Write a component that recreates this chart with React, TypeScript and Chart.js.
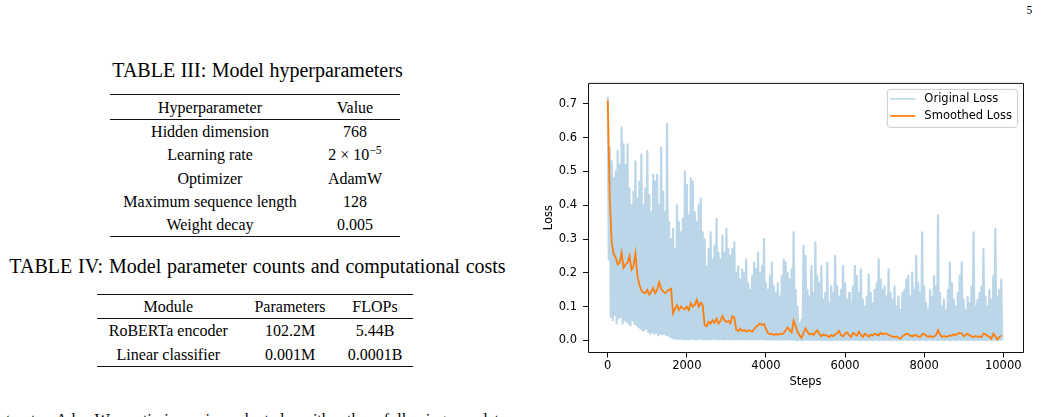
import React, { useEffect, useRef } from "react";
import { Chart, registerables } from "chart.js";

Chart.register(...registerables);

// ---------------- data ----------------
const BIN = 50; // steps per bin of the loss log
// upper envelope of the raw loss, one value per 50-step bin (0 .. 9950)
const originalHigh = [
  0.72, 0.57, 0.53, 0.48, 0.5, 0.56, 0.52, 0.63, 0.58, 0.52,
  0.58, 0.45, 0.4, 0.44, 0.53, 0.42, 0.47, 0.55, 0.4, 0.45,
  0.56, 0.43, 0.38, 0.49, 0.47, 0.49, 0.4, 0.57, 0.44, 0.38,
  0.64, 0.35, 0.3, 0.33, 0.27, 0.4, 0.35, 0.32, 0.36, 0.5,
  0.46, 0.37, 0.48, 0.47, 0.38, 0.35, 0.4, 0.42, 0.32, 0.3,
  0.22, 0.27, 0.32, 0.24, 0.28, 0.36, 0.26, 0.24, 0.31, 0.26,
  0.33, 0.27, 0.25, 0.27, 0.29, 0.2, 0.22, 0.18, 0.21, 0.2,
  0.24, 0.17, 0.15, 0.19, 0.23, 0.21, 0.26, 0.2, 0.22, 0.3,
  0.17, 0.15, 0.19, 0.23, 0.16, 0.14, 0.17, 0.13, 0.19, 0.24,
  0.23, 0.2, 0.18, 0.21, 0.32, 0.15, 0.1, 0.05, 0.06, 0.28,
  0.25, 0.15, 0.13, 0.22, 0.14, 0.29, 0.19, 0.17, 0.22, 0.12,
  0.14, 0.23, 0.11, 0.16, 0.14, 0.25, 0.16, 0.13, 0.15, 0.22,
  0.17, 0.12, 0.14, 0.11, 0.16, 0.22, 0.19, 0.14, 0.21, 0.12,
  0.1, 0.13, 0.195, 0.14, 0.11, 0.15, 0.17, 0.24, 0.18, 0.15,
  0.16, 0.13, 0.21, 0.14, 0.12, 0.16, 0.1, 0.13, 0.09, 0.14,
  0.15, 0.18, 0.19, 0.13, 0.2, 0.15, 0.25, 0.17, 0.14, 0.32,
  0.16, 0.11, 0.09, 0.15, 0.13, 0.19, 0.16, 0.37, 0.14, 0.1,
  0.12, 0.09, 0.15, 0.23, 0.17, 0.12, 0.1, 0.14, 0.19, 0.23,
  0.12, 0.09, 0.13, 0.11, 0.16, 0.32, 0.1, 0.12, 0.14, 0.16,
  0.27, 0.13, 0.1, 0.15, 0.12, 0.19, 0.33, 0.13, 0.15, 0.18,
];
// lower envelope of the raw loss, one value per 50-step bin (25 .. 9975)
const originalLow = [
  0.24, 0.07, 0.06, 0.075, 0.05, 0.065, 0.07, 0.05, 0.06, 0.055,
  0.05, 0.045, 0.06, 0.05, 0.045, 0.04, 0.035, 0.03, 0.03, 0.035,
  0.025, 0.02, 0.025, 0.02, 0.022, 0.015, 0.02, 0.018, 0.02, 0.015,
  0.015, 0.01, 0.008, 0.006, 0.005, 0.004, 0.005, 0.004, 0.003, 0.004,
  0.003, 0.004, 0.005, 0.003, 0.004, 0.003, 0.005, 0.004, 0.003, 0.004,
  0.003, 0.004, 0.003, 0.005, 0.003, 0.004, 0.003, 0.004, 0.003, 0.003,
  0.004, 0.003, 0.004, 0.003, 0.003, 0.004, 0.003, 0.004, 0.003, 0.003,
  0.003, 0.004, 0.003, 0.003, 0.004, 0.003, 0.003, 0.004, 0.003, 0.003,
  0.003, 0.002, 0.003, 0.002, 0.003, 0.002, 0.003, 0.002, 0.002, 0.003,
  0.002, 0.002, 0.003, 0.002, 0.002, 0.001, 0.002, 0.001, 0.001, 0.002,
  0.002, 0.001, 0.002, 0.001, 0.002, 0.001, 0.002, 0.001, 0.001, 0.002,
  0.001, 0.002, 0.001, 0.001, 0.002, 0.001, 0.001, 0.002, 0.001, 0.001,
  0.002, 0.001, 0.001, 0.002, 0.001, 0.001, 0.002, 0.001, 0.001, 0.002,
  0.001, 0.001, 0.002, 0.001, 0.001, 0.002, 0.001, 0.001, 0.002, 0.001,
  0.001, 0.002, 0.001, 0.001, 0.002, 0.001, 0.001, 0.002, 0.001, 0.001,
  0.002, 0.001, 0.001, 0.002, 0.001, 0.001, 0.002, 0.001, 0.001, 0.002,
  0.001, 0.001, 0.002, 0.001, 0.001, 0.002, 0.001, 0.001, 0.002, 0.001,
  0.001, 0.002, 0.001, 0.001, 0.002, 0.001, 0.001, 0.002, 0.001, 0.001,
  0.002, 0.001, 0.001, 0.002, 0.001, 0.001, 0.002, 0.001, 0.001, 0.002,
  0.001, 0.001, 0.002, 0.001, 0.001, 0.002, 0.001, 0.001, 0.002, 0.001,
];
// smoothed loss, one value per 50-step bin (0 .. 9950)
const smoothedLoss = [
  0.71, 0.42, 0.29, 0.255, 0.245, 0.225, 0.23, 0.26, 0.215, 0.225,
  0.23, 0.25, 0.21, 0.22, 0.258, 0.19, 0.165, 0.147, 0.142, 0.14,
  0.15, 0.135, 0.145, 0.155, 0.14, 0.15, 0.172, 0.152, 0.145, 0.14,
  0.145, 0.15, 0.153, 0.08, 0.093, 0.105, 0.09, 0.1, 0.095, 0.092,
  0.1, 0.09, 0.11, 0.1, 0.105, 0.12, 0.1, 0.112, 0.105, 0.045,
  0.042, 0.055, 0.05, 0.06, 0.052, 0.064, 0.05, 0.058, 0.072, 0.06,
  0.054, 0.058, 0.05, 0.072, 0.068, 0.032, 0.028, 0.035, 0.028, 0.031,
  0.026, 0.03, 0.028, 0.026, 0.033, 0.04, 0.045, 0.05, 0.046, 0.048,
  0.035, 0.022, 0.018, 0.02, 0.016, 0.019, 0.017, 0.02, 0.018, 0.022,
  0.03, 0.038, 0.03, 0.024, 0.058, 0.042, 0.025, 0.015, 0.008, 0.022,
  0.036, 0.025, 0.018, 0.02, 0.016, 0.024, 0.03, 0.02, 0.012, 0.018,
  0.015, 0.014, 0.01, 0.016, 0.012, 0.018, 0.022, 0.028, 0.015, 0.012,
  0.02, 0.024, 0.016, 0.01, 0.022, 0.018, 0.014, 0.026, 0.016, 0.01,
  0.02, 0.016, 0.011, 0.018, 0.014, 0.02, 0.017, 0.015, 0.022, 0.018,
  0.02, 0.02, 0.016, 0.014, 0.011, 0.01, 0.012, 0.008, 0.005, 0.012,
  0.016, 0.02, 0.018, 0.014, 0.012, 0.016, 0.015, 0.012, 0.01, 0.018,
  0.02, 0.014, 0.011, 0.013, 0.01, 0.012, 0.016, 0.03, 0.018, 0.01,
  0.013, 0.011, 0.012, 0.015, 0.014, 0.018, 0.016, 0.02, 0.022, 0.02,
  0.012, 0.016, 0.02, 0.015, 0.012, 0.01, 0.013, 0.011, 0.012, 0.009,
  0.02, 0.018, 0.014, 0.01, 0.005, 0.02, 0.012, 0.003, 0.01, 0.015,
];
const xTickValues = [0, 2000, 4000, 6000, 8000, 10000];
const yTickValues = [0, 0.1, 0.2, 0.3, 0.4, 0.5, 0.6, 0.7];
const seriesLabels = ["Original Loss", "Smoothed Loss"];

const table3Caption = "TABLE III: Model hyperparameters";
const table3Header = ["Hyperparameter", "Value"];
const table3Names = ["Hidden dimension", "Learning rate", "Optimizer", "Maximum sequence length", "Weight decay"];
const table3Values = ["768", "2 × 10^−5", "AdamW", "128", "0.005"];

const table4Caption = "TABLE IV: Model parameter counts and computational costs";
const table4Header = ["Module", "Parameters", "FLOPs"];
const table4Modules = ["RoBERTa encoder", "Linear classifier"];
const table4Params = ["102.2M", "0.001M"];
const table4Flops = ["5.44B", "0.0001B"];

const bodyLine = "taset. AdamW optimizer is adopted with the following update";
const pageNumber = "5";

// ---------------- helpers ----------------
const SERIF = '"Liberation Serif", "Times New Roman", Times, serif';
const SANS = '"DejaVu Sans", sans-serif';

function renderValue(v: string) {
  const parts = v.split("^");
  if (parts.length === 1) return v;
  return (
    <span>
      {parts[0]}
      <span style={{ fontSize: "0.72em", position: "relative", top: "-0.5em" }}>{parts[1]}</span>
    </span>
  );
}

function Txt(props: any) {
  const { x, base, size, align = "center", width, ws, children } = props;
  const style: any = {
    position: "absolute",
    top: base - size * 0.8375,
    fontSize: size,
    lineHeight: `${size}px`,
    fontFamily: SERIF,
    color: "#000",
    whiteSpace: "nowrap",
  };
  if (ws !== undefined) style.wordSpacing = ws;
  if (align === "center") {
    style.left = x - 300;
    style.width = 600;
    style.textAlign = "center";
  } else if (align === "justify") {
    style.left = x;
    style.width = width;
    style.textAlign = "justify";
    style.textAlignLast = "justify";
    style.whiteSpace = "normal";
  } else {
    style.left = x;
  }
  return <div style={style}>{children}</div>;
}

function Rule(props: any) {
  const { x1, x2, y, h = 1 } = props;
  return <div style={{ position: "absolute", left: x1, top: y, width: x2 - x1, height: h, background: "#111" }} />;
}

const framePlugin = {
  id: "frame",
  afterDatasetsDraw(chart: any) {
    const { ctx, chartArea: a } = chart;
    ctx.save();
    ctx.strokeStyle = "#111";
    ctx.lineWidth = 1;
    ctx.beginPath();
    ctx.moveTo(a.left + 0.5, a.top + 0.5);
    ctx.lineTo(a.right + 0.5, a.top + 0.5);
    ctx.lineTo(a.right + 0.5, a.bottom);
    ctx.lineTo(a.left + 0.5, a.bottom);
    ctx.closePath();
    ctx.stroke();
    ctx.restore();
  },
};

const legendPlugin = {
  id: "boxLegend",
  afterDraw(chart: any) {
    const { ctx, chartArea: a } = chart;
    const ds = chart.data.datasets;
    ctx.save();
    ctx.font = `11.5px ${SANS}`;
    const textW = Math.max(...ds.map((d: any) => ctx.measureText(d.label).width));
    const w = 37.5 + textW + 5;
    const h = 38;
    const right = a.right - 6;
    const left = right - w;
    const top = a.top + 6;
    ctx.fillStyle = "rgba(255,255,255,0.8)";
    ctx.strokeStyle = "#cccccc";
    ctx.lineWidth = 1;
    ctx.beginPath();
    if (ctx.roundRect) ctx.roundRect(left + 0.5, top + 0.5, w, h, 3);
    else ctx.rect(left + 0.5, top + 0.5, w, h);
    ctx.fill();
    ctx.stroke();
    const rows = [top + 10, top + 27];
    const widths = [1.6, 1.8];
    ds.forEach((d: any, i: number) => {
      const y = rows[i];
      ctx.strokeStyle = d.borderColor;
      ctx.lineWidth = widths[i];
      ctx.beginPath();
      ctx.moveTo(left + 3.5, y);
      ctx.lineTo(left + 28.5, y);
      ctx.stroke();
      ctx.fillStyle = "#000";
      ctx.textBaseline = "middle";
      ctx.textAlign = "left";
      ctx.fillText(d.label, left + 37.5, y);
    });
    ctx.restore();
  },
};

function LossChart() {
  const ref = useRef<HTMLCanvasElement>(null);
  useEffect(() => {
    if (!ref.current) return;
    const originalPoints: any[] = [];
    originalHigh.forEach((v, i) => {
      originalPoints.push({ x: i * BIN, y: v });
      originalPoints.push({ x: i * BIN + BIN / 2, y: originalLow[i] });
    });
    const smoothedPoints = smoothedLoss.map((v, i) => ({ x: i * BIN, y: v }));
    const tickFont = { family: SANS, size: 11.5 };
    const chart = new Chart(ref.current, {
      type: "line",
      data: {
        datasets: [
          {
            label: seriesLabels[0],
            data: originalPoints,
            borderColor: "rgba(31,119,180,0.3)",
            borderWidth: 2.2,
            borderJoinStyle: "round",
            pointRadius: 0,
            tension: 0,
            order: 2,
          },
          {
            label: seriesLabels[1],
            data: smoothedPoints,
            borderColor: "#ff7f0e",
            borderWidth: 1.8,
            pointRadius: 0,
            tension: 0,
            order: 1,
          },
        ],
      },
      options: {
        animation: false,
        responsive: false,
        devicePixelRatio: 1,
        layout: { padding: { left: 0, top: 8, right: 18, bottom: 0 } },
        plugins: { legend: { display: false }, tooltip: { enabled: false } },
        scales: {
          x: {
            type: "linear",
            min: -500,
            max: 10500,
            afterBuildTicks: (s: any) => {
              s.ticks = xTickValues.map((v) => ({ value: v }));
            },
            afterFit: (s: any) => {
              s.height = 47.5;
            },
            grid: { display: true, drawOnChartArea: false, drawTicks: true, tickLength: 5, color: "#111", lineWidth: 1 },
            border: { display: false },
            ticks: {
              font: tickFont,
              color: "#000",
              padding: 2,
              maxRotation: 0,
              autoSkip: false,
              callback: (v: any) => String(v),
            },
            title: { display: true, text: "Steps", font: tickFont, color: "#000", padding: { top: 0, bottom: 11.4 } },
          },
          y: {
            type: "linear",
            min: -0.0357,
            max: 0.762,
            afterBuildTicks: (s: any) => {
              s.ticks = yTickValues.map((v) => ({ value: v }));
            },
            afterFit: (s: any) => {
              s.width = 58;
            },
            grid: { display: true, drawOnChartArea: false, drawTicks: true, tickLength: 5, color: "#111", lineWidth: 1 },
            border: { display: false },
            ticks: {
              font: tickFont,
              color: "#000",
              padding: 6,
              autoSkip: false,
              callback: (v: any) => Number(v).toFixed(1),
            },
            title: { display: true, text: "Loss", font: tickFont, color: "#000", padding: { top: 12.6, bottom: 0 } },
          },
        },
      } as any,
      plugins: [framePlugin, legendPlugin],
    });
    return () => chart.destroy();
  }, []);
  return (
    <div style={{ position: "absolute", left: 530, top: 70, width: 511, height: 330 }}>
      <canvas ref={ref} width={511} height={330} style={{ display: "block", width: 511, height: 330 }} />
    </div>
  );
}

export default function App() {
  const t3RowBase = [137.3, 160.6, 183.9, 207.2, 230.5];
  const t4RowBase = [336.6, 359.9];
  return (
    <div
      style={{
        position: "absolute",
        left: 0,
        top: 0,
        width: 1041,
        height: 417,
        overflow: "hidden",
        background: "#fff",
      }}
    >
      <Txt x={1026.5} base={15} size={11.5} align="left">
        {pageNumber}
      </Txt>

      {/* TABLE III */}
      <Txt x={257.5} base={77} size={20} ws={0.5}>
        {table3Caption}
      </Txt>
      <Rule x1={110} x2={400} y={94} />
      <Txt x={210} base={113.3} size={16}>
        {table3Header[0]}
      </Txt>
      <Txt x={355} base={113.3} size={16}>
        {table3Header[1]}
      </Txt>
      <Rule x1={110} x2={400} y={119} />
      {table3Names.map((n, i) => (
        <React.Fragment key={n}>
          <Txt x={210} base={t3RowBase[i]} size={16}>
            {n}
          </Txt>
          <Txt x={355} base={t3RowBase[i]} size={16}>
            {renderValue(table3Values[i])}
          </Txt>
        </React.Fragment>
      ))}
      <Rule x1={110} x2={400} y={235.5} />

      {/* TABLE IV */}
      <Txt x={257.5} base={272.5} size={20} ws={0.8}>
        {table4Caption}
      </Txt>
      <Rule x1={97} x2={413} y={294} />
      <Txt x={168.3} base={312.5} size={16}>
        {table4Header[0]}
      </Txt>
      <Txt x={290} base={312.5} size={16}>
        {table4Header[1]}
      </Txt>
      <Txt x={375} base={312.5} size={16}>
        {table4Header[2]}
      </Txt>
      <Rule x1={97} x2={413} y={318.3} />
      {table4Modules.map((m, i) => (
        <React.Fragment key={m}>
          <Txt x={168.3} base={t4RowBase[i]} size={16}>
            {m}
          </Txt>
          <Txt x={290} base={t4RowBase[i]} size={16}>
            {table4Params[i]}
          </Txt>
          <Txt x={375} base={t4RowBase[i]} size={16}>
            {table4Flops[i]}
          </Txt>
        </React.Fragment>
      ))}
      <Rule x1={97} x2={413} y={365.5} />

      <Txt x={6} base={425} size={16} align="justify" width={500}>
        {bodyLine}
      </Txt>

      <LossChart />
    </div>
  );
}
